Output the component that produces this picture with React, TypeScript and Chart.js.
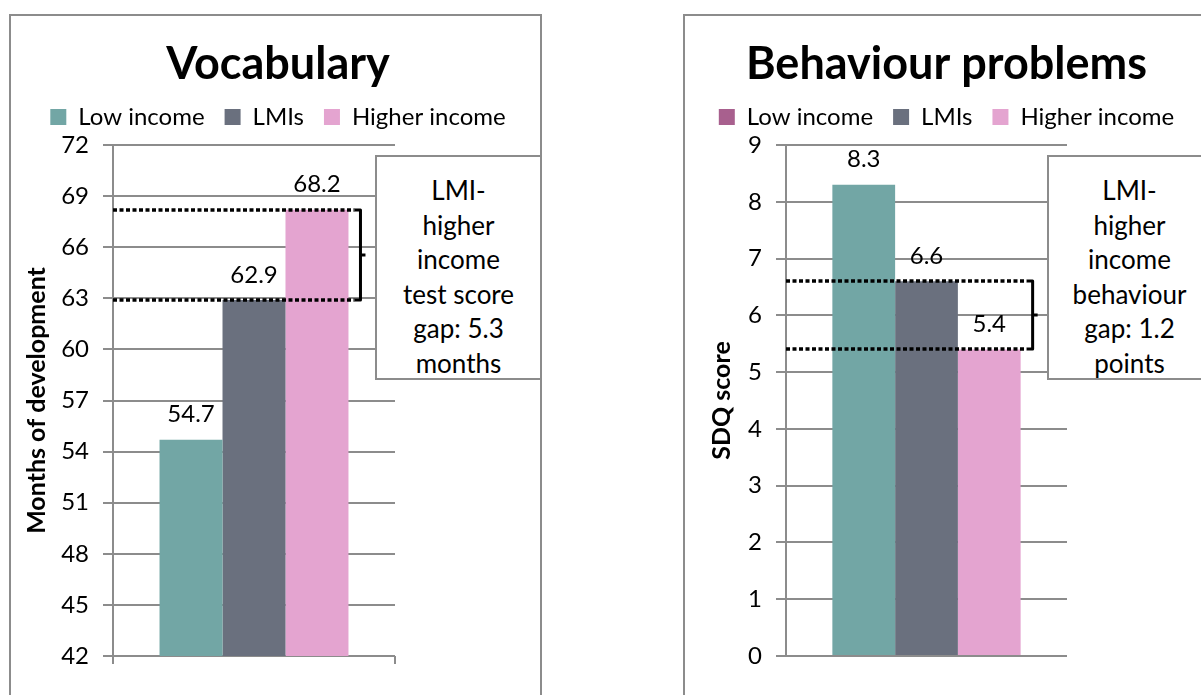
import React, { useEffect, useRef } from 'react';
import { Chart, registerables } from 'chart.js';

Chart.register(...registerables);
Chart.defaults.font.family = 'Lato';

// ---------- data ----------
const seriesNames = ['Low income', 'LMIs', 'Higher income'];
const barColors = ['#72A6A5', '#6A707E', '#E4A4D0'];

const vocabTitle = 'Vocabulary';
const vocabAxisTitle = 'Months of development';
const vocabValues = [54.7, 62.9, 68.2];
const vocabTicks = [42, 45, 48, 51, 54, 57, 60, 63, 66, 69, 72];
const vocabLegendColors = ['#72A6A5', '#6A707E', '#E4A4D0'];
const vocabNote = ['LMI-', 'higher', 'income', 'test score', 'gap: 5.3', 'months'];

const behavTitle = 'Behaviour problems';
const behavAxisTitle = 'SDQ score';
const behavValues = [8.3, 6.6, 5.4];
const behavTicks = [0, 1, 2, 3, 4, 5, 6, 7, 8, 9];
const behavLegendColors = ['#A8608E', '#6A707E', '#E4A4D0'];
const behavNote = ['LMI-', 'higher', 'income', 'behaviour', 'gap: 1.2', 'points'];

const GRID = '#8C8C8C';

// ---------- plugin: value labels, dotted gap lines, bracket ----------
const gapPlugin = {
  id: 'gapMarks',
  afterDatasetsDraw(chart: any, _args: any, opts: any) {
    const { ctx, chartArea } = chart;
    const y = chart.scales.y;
    ctx.save();
    const lmi = chart.data.datasets[1].data[0];
    const hi = chart.data.datasets[2].data[0];
    const hiBar = chart.getDatasetMeta(2).data[0];
    const barRight = hiBar.x + hiBar.width / 2;
    const yA = Math.round(y.getPixelForValue(lmi));
    const yB = Math.round(y.getPixelForValue(hi));
    const dotEnd = barRight + 6;
    const bx = barRight + 12;
    ctx.strokeStyle = '#000';
    ctx.lineWidth = 3.5;
    ctx.setLineDash([4, 2.5]);
    [yA, yB].forEach((yy: number) => {
      ctx.beginPath();
      ctx.moveTo(chartArea.left, yy);
      ctx.lineTo(dotEnd, yy);
      ctx.stroke();
    });
    ctx.setLineDash([]);
    ctx.lineWidth = 3;
    ctx.lineJoin = 'round';
    const top = Math.min(yA, yB);
    const bot = Math.max(yA, yB);
    const mid = (top + bot) / 2;
    ctx.beginPath();
    ctx.moveTo(bx - 6, top);
    ctx.lineTo(bx, top);
    ctx.lineTo(bx, bot);
    ctx.lineTo(bx - 6, bot);
    ctx.stroke();
    ctx.beginPath();
    ctx.moveTo(bx, mid);
    ctx.lineTo(bx + 5, mid);
    ctx.stroke();
    // value labels
    ctx.font = '24px Lato';
    ctx.fillStyle = '#000';
    ctx.textAlign = 'center';
    ctx.textBaseline = 'middle';
    chart.data.datasets.forEach((ds: any, i: number) => {
      chart.getDatasetMeta(i).data.forEach((bar: any, j: number) => {
        ctx.fillText(Number(ds.data[j]).toFixed(1), bar.x, bar.y - opts.labelOffset);
      });
    });
    ctx.restore();
  },
};

type PanelProps = {
  title: string;
  axisTitle: string;
  values: number[];
  ticks: number[];
  legendColors: string[];
  yWidth: number;
  rightWidth: number;
  xHeight: number;
  topPad: number;
  xTickLength: number;
  axisTitlePad: number;
};

function ChartPanel(p: PanelProps) {
  const ref = useRef<HTMLCanvasElement | null>(null);
  useEffect(() => {
    if (!ref.current) return;
    const chart = new Chart(ref.current, {
      type: 'bar',
      data: {
        labels: [''],
        datasets: seriesNames.map((name, i) => ({
          label: name,
          data: [p.values[i]],
          backgroundColor: barColors[i],
          borderWidth: 0,
          xAxisID: 'x',
          yAxisID: 'y',
          categoryPercentage: 0.67,
          barPercentage: 1,
        })),
      },
      options: {
        responsive: true,
        maintainAspectRatio: false,
        animation: false,
        layout: { padding: 0 },
        plugins: {
          title: {
            display: true,
            text: p.title,
            color: '#000',
            font: { family: 'Lato', size: 45, weight: 'bold', lineHeight: 1.0 },
            padding: { top: 26, bottom: -2 },
          },
          legend: {
            display: true,
            position: 'top',
            labels: {
              color: '#000',
              font: { family: 'Lato', size: 24 },
              boxWidth: 16,
              boxHeight: 16,
              padding: 20,
              generateLabels: (chart: any) =>
                chart.data.datasets.map((ds: any, i: number) => ({
                  text: ds.label,
                  fillStyle: p.legendColors[i],
                  strokeStyle: p.legendColors[i],
                  lineWidth: 0,
                  hidden: false,
                  datasetIndex: i,
                  fontColor: '#000',
                })),
            },
          },
          tooltip: { enabled: false },
          gapMarks: { labelOffset: 25 },
        } as any,
        scales: {
          x: {
            type: 'category',
            axis: 'x',
            position: 'bottom',
            offset: true,
            grid: {
              display: p.xTickLength > 0,
              drawOnChartArea: false,
              offset: true,
              tickLength: p.xTickLength,
              color: GRID,
              lineWidth: 2,
            },
            ticks: { display: false },
            border: { display: false },
            afterFit: (s: any) => {
              s.height = p.xHeight;
            },
          },
          topPad: {
            type: 'linear',
            axis: 'x',
            position: 'top',
            display: true,
            grid: { display: false },
            ticks: { display: false },
            border: { display: false },
            afterFit: (s: any) => {
              s.height = p.topPad;
            },
          },
          y: {
            type: 'linear',
            axis: 'y',
            position: 'left',
            min: p.ticks[0],
            max: p.ticks[p.ticks.length - 1],
            afterBuildTicks: (s: any) => {
              s.ticks = p.ticks.map((v) => ({ value: v }));
            },
            grid: { color: GRID, lineWidth: 2, tickLength: 10, drawTicks: true },
            border: { display: true, color: GRID, width: 2 },
            ticks: { color: '#000', font: { family: 'Lato', size: 24 }, padding: 14 },
            title: {
              display: true,
              text: p.axisTitle,
              color: '#000',
              font: { family: 'Lato', size: 25, weight: 'bold' },
              padding: { top: p.axisTitlePad, bottom: 0 },
            },
            afterFit: (s: any) => {
              s.width = p.yWidth;
            },
          },
          rightPad: {
            type: 'linear',
            axis: 'y',
            position: 'right',
            display: true,
            grid: { display: false },
            ticks: { display: false },
            border: { display: false },
            afterFit: (s: any) => {
              s.width = p.rightWidth;
            },
          },
        } as any,
      },
      plugins: [gapPlugin],
    } as any);
    return () => chart.destroy();
  }, []);
  return <canvas ref={ref} />;
}

function Note({ lines, left, top, width, height }: { lines: string[]; left: number; top: number; width: number; height: number }) {
  return (
    <div
      style={{
        position: 'absolute',
        left,
        top,
        width,
        height,
        boxSizing: 'border-box',
        border: `2px solid ${GRID}`,
        background: '#fff',
        paddingTop: 16,
        fontFamily: 'Lato',
        fontSize: 26,
        lineHeight: '34.6px',
        color: '#000',
        textAlign: 'center',
        whiteSpace: 'nowrap',
      }}
    >
      {lines.map((l, i) => (
        <div key={i}>{l}</div>
      ))}
    </div>
  );
}

export default function App() {
  return (
    <div style={{ position: 'fixed', left: 0, top: 0, width: 1201, height: 695, background: '#fff', overflow: 'hidden' }}>
      {/* left panel */}
      <div style={{ position: 'absolute', left: 9, top: 14, width: 533, height: 720, boxSizing: 'border-box', border: `2px solid ${GRID}` }} />
      <div style={{ position: 'absolute', left: 14, top: 16, width: 528, height: 679 }}>
        <ChartPanel
          title={vocabTitle}
          axisTitle={vocabAxisTitle}
          values={vocabValues}
          ticks={vocabTicks}
          legendColors={vocabLegendColors}
          yWidth={99}
          rightWidth={147}
          xHeight={39}
          topPad={6}
          xTickLength={8}
          axisTitlePad={8}
        />
      </div>
      <Note lines={vocabNote} left={375} top={155} width={167} height={225} />

      {/* right panel */}
      <div style={{ position: 'absolute', left: 683, top: 14, width: 600, height: 720, boxSizing: 'border-box', border: `2px solid ${GRID}` }} />
      <div style={{ position: 'absolute', left: 692, top: 16, width: 509, height: 679 }}>
        <ChartPanel
          title={behavTitle}
          axisTitle={behavAxisTitle}
          values={behavValues}
          ticks={behavTicks}
          legendColors={behavLegendColors}
          yWidth={94}
          rightWidth={134}
          xHeight={39}
          topPad={6}
          xTickLength={0}
          axisTitlePad={15}
        />
      </div>
      <Note lines={behavNote} left={1047} top={155} width={165} height={225} />
    </div>
  );
}
